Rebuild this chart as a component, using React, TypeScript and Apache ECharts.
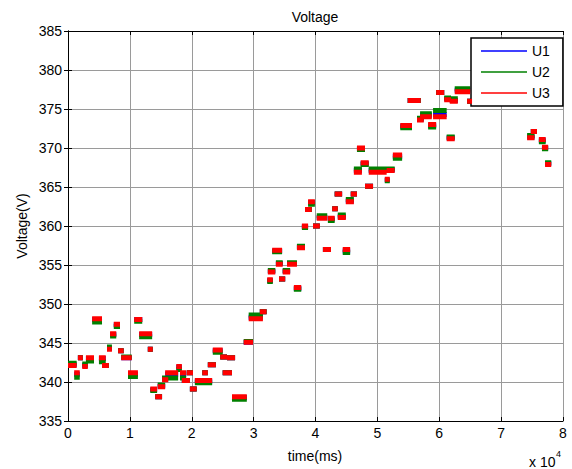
import React, { useEffect, useRef } from "react";
import * as echarts from "echarts";

// segment start / end times (ms)
const segStart = [
  0, 1000, 1600, 2300, 2900, 3900, 5000, 5500, 6300, 6800,
  7400, 8100, 8600, 9700, 10700, 11500, 12900, 13300, 14100, 14500,
  15200, 15700, 17500, 18100, 18400, 19200, 19700, 20500, 21700, 22600,
  23400, 24600, 25000, 25700, 26500, 28400, 29200, 31000, 32200, 32300,
  33000, 33600, 34100, 34700, 35400, 36500, 37000, 37800, 38300, 38800,
  39600, 40200, 41200, 42000, 42700, 43100, 43600, 44400, 44900, 45700,
  46200, 46700, 47300, 48000, 48600, 51200, 51500, 52500, 53700, 54900,
  56400, 56900, 58200, 59000, 59500, 60800, 61200, 61700, 62500, 64500,
  74200, 74800, 76100, 76600, 77100,
];
const segEnd = [
  1400, 1900, 2400, 3200, 4200, 5500, 6100, 6600, 7100, 7800,
  8400, 9000, 10300, 11300, 12000, 13600, 13700, 14400, 15200, 15700,
  16200, 17800, 18400, 19100, 19700, 20200, 20800, 23300, 22600, 23900,
  25000, 25700, 26500, 27000, 28900, 29900, 31500, 32100, 33100, 33500,
  34600, 34700, 35100, 35900, 37000, 37700, 38300, 38800, 39400, 39900,
  40700, 41900, 42500, 43100, 43600, 44300, 44900, 45600, 46200, 46700,
  47500, 48000, 48600, 49300, 51500, 52000, 52800, 54000, 55600, 57000,
  57500, 58800, 59500, 61200, 60800, 61900, 62500, 63000, 65000, 65300,
  75400, 75800, 77200, 77600, 78100,
];
const u3Values = [
  342.1, 341.2, 343.1, 342.0, 343.1, 348.1, 343.1, 342.1, 344.2, 346.2,
  347.4, 344.0, 343.1, 341.2, 348.0, 346.2, 344.2, 339.1, 338.1, 339.4,
  340.3, 341.2, 342.0, 341.2, 340.2, 341.2, 339.1, 340.2, 341.2, 342.2,
  344.1, 343.2, 341.2, 343.1, 338.1, 345.1, 348.1, 349.0, 353.1, 354.1,
  356.9, 355.1, 353.2, 354.1, 355.1, 352.1, 357.2, 360.0, 362.1, 363.1,
  360.0, 361.0, 357.0, 361.0, 362.2, 364.1, 361.1, 357.0, 363.1, 364.1,
  366.9, 370.0, 368.1, 365.1, 366.9, 366.0, 367.1, 369.1, 372.9, 376.1,
  373.6, 374.0, 373.0, 374.0, 377.1, 376.2, 371.2, 376.0, 377.2, 376.0,
  371.3, 372.1, 371.1, 370.1, 367.9,
];
const u2Values = [
  342.4, 340.6, 343.1, 342.3, 342.7, 347.7, 342.6, 342.1, 344.5, 345.9,
  347.1, 344.0, 343.2, 340.7, 347.8, 345.8, 344.2, 338.9, 338.1, 339.6,
  340.5, 340.5, 341.6, 340.5, 340.2, 341.2, 339.1, 339.9, 341.2, 342.2,
  343.8, 343.2, 341.2, 343.1, 337.8, 345.2, 348.6, 349.0, 352.9, 354.3,
  356.7, 355.3, 353.2, 354.3, 355.3, 351.9, 357.4, 359.8, 362.1, 362.8,
  360.0, 361.3, 357.0, 360.7, 362.2, 364.1, 361.4, 356.6, 363.4, 364.1,
  367.3, 369.8, 367.9, 365.1, 367.3, 365.8, 367.3, 368.7, 372.6, 376.1,
  373.8, 374.4, 372.7, 374.8, 377.1, 376.4, 371.4, 376.3, 377.6, 376.0,
  371.6, 372.1, 370.8, 369.9, 368.1,
];
const u1Values = [
  342.2, 341.0, 343.1, 342.1, 343.0, 348.0, 343.0, 342.1, 344.3, 346.1,
  347.3, 344.0, 343.1, 341.0, 348.0, 346.1, 344.2, 339.0, 338.1, 339.5,
  340.4, 341.0, 341.9, 341.0, 340.2, 341.2, 339.1, 340.1, 341.2, 342.2,
  344.0, 343.2, 341.2, 343.1, 338.0, 345.1, 348.3, 349.0, 353.0, 354.2,
  356.8, 355.2, 353.2, 354.2, 355.2, 352.0, 357.3, 359.9, 362.1, 363.0,
  360.0, 361.1, 357.0, 360.9, 362.2, 364.1, 361.2, 356.8, 363.2, 364.1,
  367.1, 369.9, 368.0, 365.1, 367.1, 365.9, 367.2, 368.9, 372.8, 376.1,
  373.7, 374.2, 372.9, 374.3, 377.1, 376.3, 371.3, 376.1, 377.4, 376.0,
  371.4, 372.1, 371.0, 370.0, 368.0,
];
const seriesNames = ["U1", "U2", "U3"];
const seriesColors = ["#0000ff", "#008000", "#ff0000"];
const xTickMax = 80000;
const yMin = 335;
const yMax = 385;

const FONT = "'Liberation Sans', Arial, Helvetica, sans-serif";
const FS = 14;

function buildLine(vals: number[]) {
  const out: any[] = [];
  for (let i = 0; i < vals.length; i++) {
    out.push([segStart[i], vals[i]]);
    out.push([segEnd[i], vals[i]]);
    out.push([segEnd[i], "-"]);
  }
  return out;
}

export default function App() {
  const ref = useRef<HTMLDivElement>(null);
  useEffect(() => {
    if (!ref.current) return;
    const chart = echarts.init(ref.current, undefined, { renderer: "svg" });
    const valuesList = [u1Values, u2Values, u3Values];
    const axisLine = { show: true, lineStyle: { color: "#000", width: 1 } };
    const tick = { show: true, inside: true, length: 4, lineStyle: { color: "#000" } };
    chart.setOption({
      animation: false,
      backgroundColor: "#fff",
      grid: { left: 68, right: 9, top: 31, bottom: 48, containLabel: false },
      xAxis: [
        {
          type: "value",
          min: 0,
          max: xTickMax,
          interval: 10000,
          axisLine,
          axisTick: tick,
          axisLabel: {
            color: "#000",
            fontFamily: FONT,
            fontSize: FS,
            margin: 5,
            formatter: (v: number) => String(v / 10000),
          },
          splitLine: { show: true, lineStyle: { color: "#9a9a9a", width: 1 } },
        },
        {
          type: "value",
          position: "top",
          min: 0,
          max: xTickMax,
          interval: 10000,
          axisLine,
          axisTick: tick,
          axisLabel: { show: false },
          splitLine: { show: false },
        },
      ],
      yAxis: [
        {
          type: "value",
          min: yMin,
          max: yMax,
          interval: 5,
          axisLine,
          axisTick: tick,
          axisLabel: { color: "#000", fontFamily: FONT, fontSize: FS, margin: 6 },
          splitLine: { show: true, lineStyle: { color: "#9a9a9a", width: 1 } },
        },
        {
          type: "value",
          position: "right",
          min: yMin,
          max: yMax,
          interval: 5,
          axisLine,
          axisTick: tick,
          axisLabel: { show: false },
          splitLine: { show: false },
        },
      ],
      legend: {
        orient: "vertical",
        left: 471,
        top: 38,
        data: seriesNames,
        icon: "rect",
        itemWidth: 46,
        itemHeight: 1.5,
        itemGap: 7,
        padding: [6, 13, 6, 10],
        backgroundColor: "#fff",
        borderColor: "#000",
        borderWidth: 1.5,
        borderRadius: 0,
        itemStyle: { borderWidth: 0 },
        lineStyle: { width: 0 },
        textStyle: { color: "#000", fontFamily: FONT, fontSize: FS },
        selectedMode: false,
      },
      series: seriesNames.map((name, i) => ({
        name,
        type: "line",
        data: buildLine(valuesList[i]),
        showSymbol: false,
        symbol: "none",
        connectNulls: false,
        color: seriesColors[i],
        lineStyle: { color: seriesColors[i], width: 5, cap: "butt" },
        z: 2 + i,
      })),
      graphic: [
        {
          type: "text",
          x: 315,
          y: 17,
          style: {
            text: "Voltage",
            fill: "#000",
            font: `${FS}px ${FONT}`,
            align: "center",
            verticalAlign: "middle",
          },
        },
        {
          type: "text",
          x: 22,
          y: 226,
          rotation: Math.PI / 2,
          style: {
            text: "Voltage(V)",
            fill: "#000",
            font: `${FS}px ${FONT}`,
            align: "center",
            verticalAlign: "middle",
          },
        },
        {
          type: "text",
          x: 315,
          y: 456,
          style: {
            text: "time(ms)",
            fill: "#000",
            font: `${FS}px ${FONT}`,
            align: "center",
            verticalAlign: "middle",
          },
        },
        {
          type: "text",
          x: 529,
          y: 462,
          style: {
            text: "x 10",
            fill: "#000",
            font: `${FS}px ${FONT}`,
            align: "left",
            verticalAlign: "middle",
          },
        },
        {
          type: "text",
          x: 556,
          y: 454,
          style: {
            text: "4",
            fill: "#000",
            font: `9px ${FONT}`,
            align: "left",
            verticalAlign: "middle",
          },
        },
      ],
    });
    return () => chart.dispose();
  }, []);
  return (
    <div
      ref={ref}
      style={{ position: "fixed", left: 0, top: 0, width: 572, height: 469 }}
    />
  );
}
